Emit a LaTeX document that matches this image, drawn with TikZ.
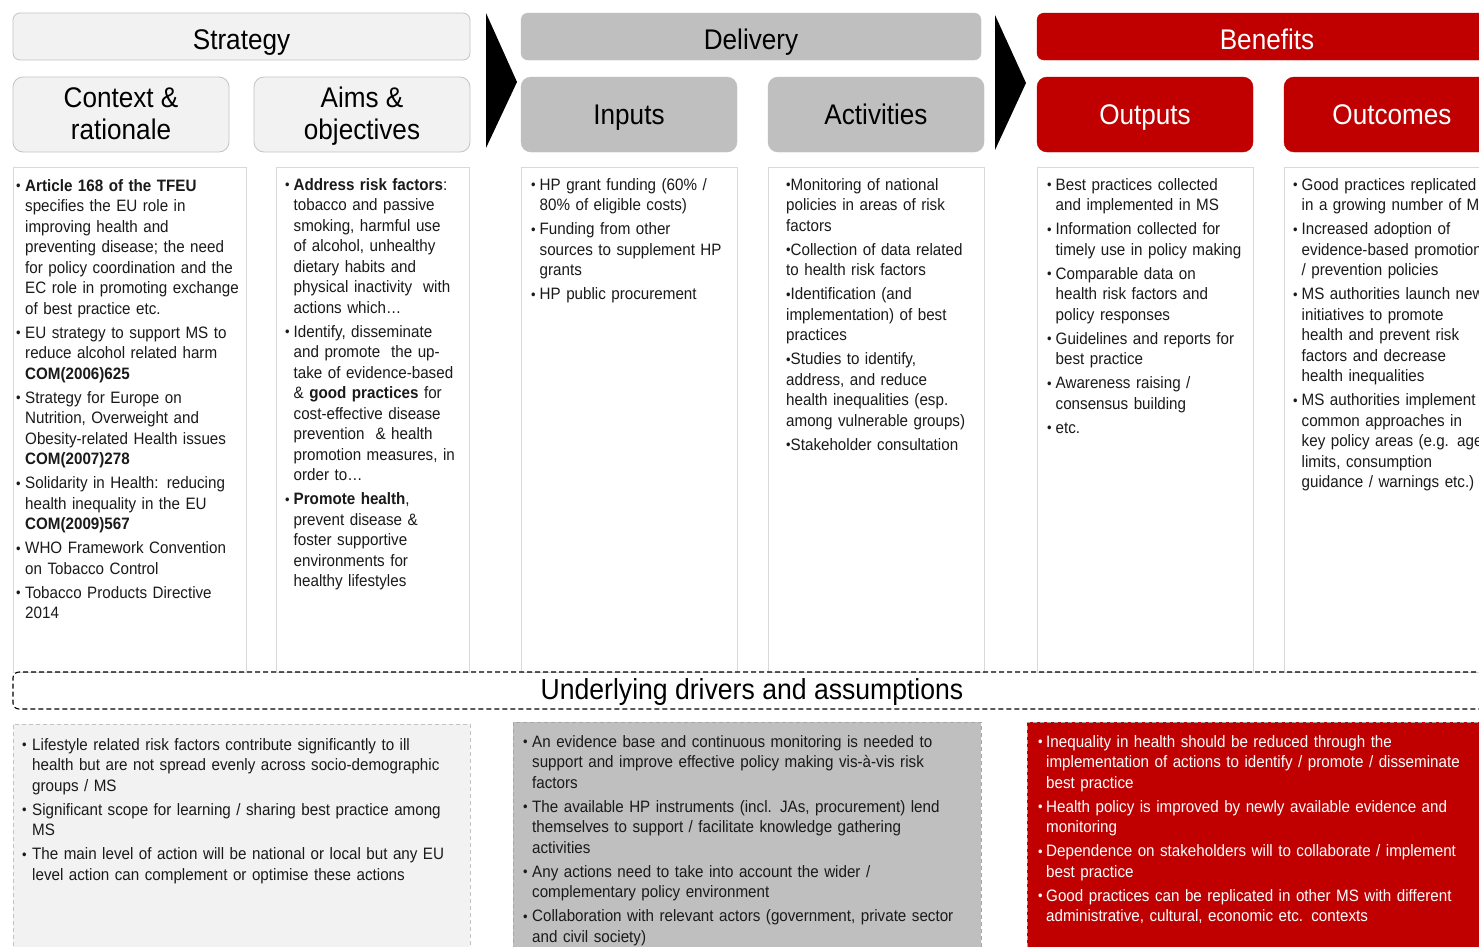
\documentclass[tikz,border=0pt]{standalone}
\usepackage{fontspec}
\setmainfont{Liberation Sans}[FakeStretch=0.92]
\definecolor{paleGrey}{HTML}{F2F2F2}
\definecolor{edgeGrey}{HTML}{C3C3C3}
\definecolor{midGrey}{HTML}{BFBFBF}
\definecolor{dashGrey}{HTML}{A6A6A6}
\definecolor{boxRed}{HTML}{C00000}
\definecolor{colEdge}{HTML}{D9D9D9}
\definecolor{inkDark}{HTML}{1A1A1A}
% small bullet and list items with a hanging indent
\newcommand\bul{\raisebox{0.3pt}{\fontsize{14}{14}\selectfont\textbullet}}
\newcommand\itm[2][8.5pt]{\hangindent=#1\hangafter=1\noindent\hbox to #1{\bul\hss}\rule{0pt}{13pt}#2\par}
\newcommand\dotitm[1]{\noindent\bul\rule{0pt}{13pt}#1\par}
\tikzset{
  hdrfont/.style={font=\fontsize{28.4}{32}\selectfont},
  bar/.style={hdrfont, rounded corners=7pt, minimum height=47pt, inner sep=0pt, text height=26pt, text depth=0pt},
  tab/.style={hdrfont, rounded corners=10pt, minimum height=75pt, minimum width=216pt, inner sep=0pt},
  tabone/.style={tab, text height=20pt, text depth=0pt},
  lightfill/.style={fill=paleGrey, draw=edgeGrey, line width=0.8pt, text=black},
  greyfill/.style={fill=midGrey, draw=midGrey, text=black},
  redfill/.style={fill=boxRed, draw=boxRed, text=white},
  colbox/.style={draw=colEdge, line width=1.2pt, fill=white, anchor=north west, inner sep=0pt},
  coltext/.style={anchor=north west, inner sep=0pt, text width=300pt, text=inkDark,
    font=\fontsize{16.5}{20.5}\selectfont,
    execute at begin node={\raggedright\hyphenpenalty=10000\parskip=3.5pt\relax}},
  lowbox/.style={anchor=north west, inner sep=0pt, dashed, dash pattern=on 4pt off 3pt, line width=0.9pt},
  arrowhead/.style={fill=black},
}
\begin{document}
\begin{tikzpicture}[x=1pt,y=-1pt]
\useasboundingbox (0,0) rectangle (1479,946);
\fill[white] (0,0) rectangle (1479,946);

% --- top bars
\node[bar, lightfill, minimum width=457pt] (strategy) at (241.5,36.5) {Strategy};
\node[bar, greyfill, minimum width=460pt] (delivery) at (751,36.5) {Delivery};
\node[bar, redfill, minimum width=460pt] (benefits) at (1267,36.5) {Benefits};

% --- stage tabs
\node[tab, lightfill] (context) at (121,114.5) {};
\node[hdrfont, anchor=base, align=center, inner sep=0pt] (contextlbl) at (121,139) {Context \&\\rationale};
\node[tab, lightfill] (aims) at (362,114.5) {};
\node[hdrfont, anchor=base, align=center, inner sep=0pt] (aimslbl) at (362,139) {Aims \&\\objectives};
\node[tabone, greyfill] (inputs) at (629,114.5) {Inputs};
\node[tabone, greyfill] (activities) at (876,114.5) {Activities};
\node[tabone, redfill] (outputs) at (1145,114.5) {Outputs};
\node[tabone, redfill] (outcomes) at (1392,114.5) {Outcomes};

% --- chevrons between the three phases
\fill[arrowhead] (486,13) -- (517,82) -- (486,148) -- cycle;
\fill[arrowhead] (995,15) -- (1026,83) -- (995,150) -- cycle;

% --- column boxes
\node[colbox, minimum width=233pt, minimum height=505pt] (col1) at (13,167) {};
\node[colbox, minimum width=193pt, minimum height=505pt] (col2) at (276,167) {};
\node[colbox, minimum width=216pt, minimum height=505pt] (col3) at (521,167) {};
\node[colbox, minimum width=216pt, minimum height=505pt] (col4) at (768,167) {};
\node[colbox, minimum width=216pt, minimum height=505pt] (col5) at (1037,167) {};
\node[colbox, minimum width=230pt, minimum height=505pt] (col6) at (1284,167) {};

\node[coltext] (col1txt) at (16,178) {%
\itm[9pt]{\textbf{Article 168 of the TFEU}\newline specifies the EU role in\newline improving health and\newline preventing disease; the need\newline for policy coordination and the\newline EC role in promoting exchange\newline of best practice etc.}
\itm[9pt]{EU strategy to support MS to\newline reduce alcohol related harm\newline \textbf{COM(2006)625}}
\itm[9pt]{Strategy for Europe on\newline Nutrition, Overweight and\newline Obesity-related Health issues\newline \textbf{COM(2007)278}}
\itm[9pt]{Solidarity in Health: reducing\newline health inequality in the EU\newline \textbf{COM(2009)567}}
\itm[9pt]{WHO Framework Convention\newline on Tobacco Control}
\itm[9pt]{Tobacco Products Directive\newline 2014}};

\node[coltext] (col2txt) at (285,177) {%
\itm{\textbf{Address risk factors}:\newline tobacco and passive\newline smoking, harmful use\newline of alcohol, unhealthy\newline dietary habits and\newline physical inactivity\ \ with\newline actions which\ldots}
\itm{Identify, disseminate\newline and promote\ \ the up-\newline take of evidence-based\newline \& \textbf{good practices} for\newline cost-effective disease\newline prevention\ \ \& health\newline promotion measures, in\newline order to\ldots}
\itm{\textbf{Promote health},\newline prevent disease \&\newline foster supportive\newline environments for\newline healthy lifestyles}};

\node[coltext] (col3txt) at (531,177) {%
\itm{HP grant funding (60\% /\newline 80\% of eligible costs)}
\itm{Funding from other\newline sources to supplement HP\newline grants}
\itm{HP public procurement}};

\node[coltext] (col4txt) at (786,177) {%
\dotitm{Monitoring of national\newline policies in areas of risk\newline factors}
\dotitm{Collection of data related\newline to health risk factors}
\dotitm{Identification (and\newline implementation) of best\newline practices}
\dotitm{Studies to identify,\newline address, and reduce\newline health inequalities (esp.\newline among vulnerable groups)}
\dotitm{Stakeholder consultation}};

\node[coltext] (col5txt) at (1047,177) {%
\itm{Best practices collected\newline and implemented in MS}
\itm{Information collected for\newline timely use in policy making}
\itm{Comparable data on\newline health risk factors and\newline policy responses}
\itm{Guidelines and reports for\newline best practice}
\itm{Awareness raising /\newline consensus building}
\itm{etc.}};

\node[coltext] (col6txt) at (1293,177) {%
\itm{Good practices replicated\newline in a growing number of MS}
\itm{Increased adoption of\newline evidence-based promotion\newline / prevention policies}
\itm{MS authorities launch new\newline initiatives to promote\newline health and prevent risk\newline factors and decrease\newline health inequalities}
\itm{MS authorities implement\newline common approaches in\newline key policy areas (e.g. age\newline limits, consumption\newline guidance / warnings etc.)}};

% --- underlying drivers band
\draw[line width=1.1pt, dash pattern=on 5pt off 3pt]
  (1500,672) -- (19,672) to[out=180,in=90] (13,678) -- (13,703) to[out=-90,in=180] (19,709) -- (1500,709);
\node[font=\fontsize{28.9}{32}\selectfont, anchor=base, inner sep=0pt] (drivers) at (752,699) {Underlying drivers and assumptions};

% --- assumption boxes
\node[lowbox, fill=paleGrey, draw=edgeGrey, minimum width=457pt, minimum height=240pt] (lowA) at (13,724) {};
\node[lowbox, fill=midGrey, draw=dashGrey, minimum width=468pt, minimum height=240pt] (lowB) at (513,722) {};
\node[lowbox, fill=boxRed, draw=dashGrey, minimum width=480pt, minimum height=240pt] (lowC) at (1027,722) {};

\node[coltext, text width=470pt] (lowAtxt) at (22,737) {%
\itm[10pt]{Lifestyle related risk factors contribute significantly to ill\newline health but are not spread evenly across socio-demographic\newline groups / MS}
\itm[10pt]{Significant scope for learning / sharing best practice among\newline MS}
\itm[10pt]{The main level of action will be national or local but any EU\newline level action can complement or optimise these actions}};

\node[coltext, text width=470pt] (lowBtxt) at (523,734) {%
\itm[9pt]{An evidence base and continuous monitoring is needed to\newline support and improve effective policy making vis-à-vis risk\newline factors}
\itm[9pt]{The available HP instruments (incl. JAs, procurement) lend\newline themselves to support / facilitate knowledge gathering\newline activities}
\itm[9pt]{Any actions need to take into account the wider /\newline complementary policy environment}
\itm[9pt]{Collaboration with relevant actors (government, private sector\newline and civil society)}};

\node[coltext, text width=470pt, text=white] (lowCtxt) at (1038,734) {%
\itm[8pt]{Inequality in health should be reduced through the\newline implementation of actions to identify / promote / disseminate\newline best practice}
\itm[8pt]{Health policy is improved by newly available evidence and\newline monitoring}
\itm[8pt]{Dependence on stakeholders will to collaborate / implement\newline best practice}
\itm[8pt]{Good practices can be replicated in other MS with different\newline administrative, cultural, economic etc. contexts}};
\end{tikzpicture}
\end{document}
